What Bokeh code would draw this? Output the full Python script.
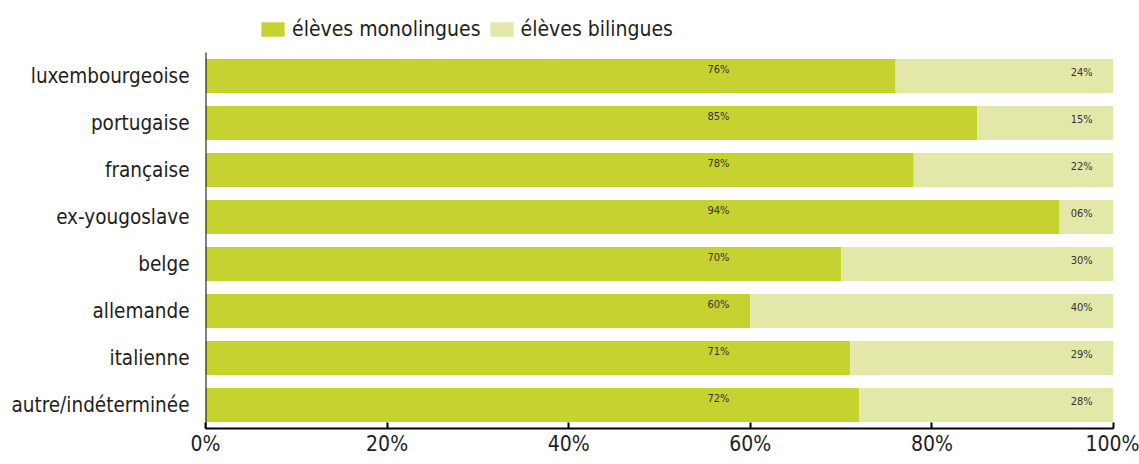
from bokeh.plotting import figure
from bokeh.models import (ColumnDataSource, Legend, LegendItem, FixedTicker,
                          NumeralTickFormatter, Range1d)
from bokeh.core.properties import value
from bokeh.embed import file_html
from bokeh.resources import INLINE

categories = ["luxembourgeoise", "portugaise", "française", "ex-yougoslave",
              "belge", "allemande", "italienne", "autre/indéterminée"]
monolingues = [76, 85, 78, 94, 70, 60, 71, 72]
bilingues = [24, 15, 22, 6, 30, 40, 29, 28]
mono_labels = ["76%", "85%", "78%", "94%", "70%", "60%", "71%", "72%"]
bi_labels = ["24%", "15%", "22%", "06%", "30%", "40%", "29%", "28%"]
x_ticks = [0, 20, 40, 60, 80, 100]

FONT = "'DejaVu Sans Condensed', Roboto, sans-serif"
C_MONO = "#C6D22F"
C_BI = "#E3E8A8"
TXT = "#1e1e1e"

n = len(categories)
ypos = [n - 1 - i for i in range(n)]  # first category at the top

src = ColumnDataSource(dict(
    y=ypos,
    mono=[m / 100 for m in monolingues],
    bi=[b / 100 for b in bilingues],
    mono_lab=mono_labels,
    bi_lab=bi_labels,
    x_mono=[0.565] * n,
    x_bi=[0.965] * n,
))

p = figure(width=1139, height=464, x_range=(0, 1),
           y_range=Range1d(-0.5, n - 0.5 + 0.894),
           output_backend="svg", toolbar_location=None,
           min_border_left=205, min_border_right=26, min_border_top=10,
           min_border_bottom=36)

rs = p.hbar_stack(["mono", "bi"], y="y", height=0.72, color=[C_MONO, C_BI],
                  source=src, line_color=None)

# left axis line, only spanning the category area
p.segment(x0=[0], y0=[-0.5], x1=[0], y1=[n - 0.5], line_color="black",
          line_width=2)

p.text(x="x_mono", y="y", text="mono_lab", source=src, text_align="center",
       text_baseline="middle", y_offset=-7, text_font=value(FONT),
       text_font_size="11px", text_color="#333333")
p.text(x="x_bi", y="y", text="bi_lab", source=src, text_align="center",
       text_baseline="middle", y_offset=-4, text_font=value(FONT),
       text_font_size="11px", text_color="#333333")

p.xgrid.visible = False
p.ygrid.visible = False
p.outline_line_color = None

p.xaxis.ticker = FixedTicker(ticks=[t / 100 for t in x_ticks])
p.xaxis.formatter = NumeralTickFormatter(format="0%")
p.xaxis.major_tick_in = 6
p.xaxis.major_tick_out = 0
p.xaxis.minor_tick_line_color = None
p.xaxis.axis_line_width = 2
p.xaxis.major_tick_line_width = 2
p.xaxis.major_label_text_font = FONT
p.xaxis.major_label_text_font_size = "21px"
p.xaxis.major_label_text_color = TXT
p.xaxis.major_label_standoff = 3

p.yaxis.ticker = FixedTicker(ticks=ypos)
p.yaxis.major_label_overrides = {y: c for y, c in zip(ypos, categories)}
p.yaxis.major_tick_line_color = None
p.yaxis.minor_tick_line_color = None
p.yaxis.axis_line_color = None
p.yaxis.major_label_text_font = FONT
p.yaxis.major_label_text_font_size = "20.5px"
p.yaxis.major_label_text_color = TXT
p.yaxis.major_label_standoff = 10

legend = Legend(items=[LegendItem(label="élèves monolingues", renderers=[rs[0]]),
                       LegendItem(label="élèves bilingues", renderers=[rs[1]])],
                orientation="horizontal", location=(53, 387))
legend.glyph_width = 29
legend.glyph_height = 18
legend.label_text_font = FONT
legend.label_text_font_size = "21px"
legend.label_text_color = TXT
legend.label_standoff = 5
legend.spacing = 6
legend.padding = 4
legend.margin = 0
legend.border_line_color = None
legend.background_fill_alpha = 0
p.add_layout(legend)

open("out.html", "w").write(file_html(p, INLINE))
